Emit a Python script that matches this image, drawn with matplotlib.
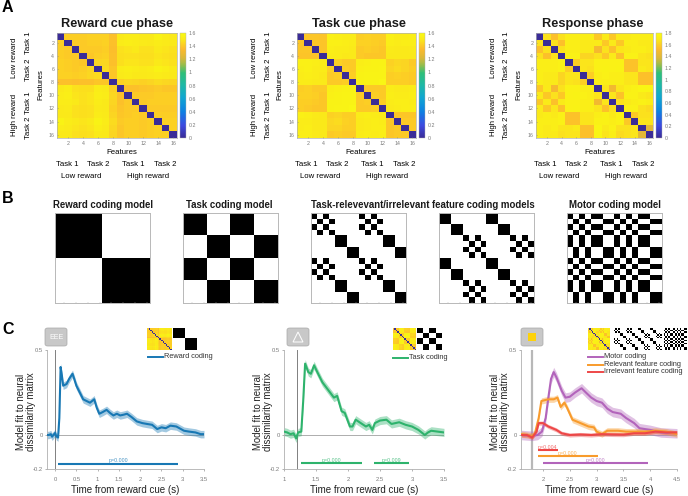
import matplotlib
matplotlib.use("Agg")
import matplotlib.pyplot as plt
import numpy as np
from matplotlib.colors import LinearSegmentedColormap
from matplotlib.patches import FancyBboxPatch, Polygon, Rectangle

plt.rcParams["font.family"] = ["Liberation Sans", "DejaVu Sans"]

W, H = 688, 496

# upper triangles of the dissimilarity matrices, row by row
reward_upper = [
    [1.42, 1.42, 1.42, 1.43, 1.43, 1.43, 1.38, 1.50, 1.52, 1.52, 1.50, 1.50, 1.55, 1.52, 1.50],
    [1.41, 1.41, 1.42, 1.42, 1.43, 1.38, 1.52, 1.53, 1.52, 1.51, 1.50, 1.52, 1.51, 1.50],
    [1.41, 1.41, 1.41, 1.42, 1.37, 1.48, 1.49, 1.50, 1.48, 1.48, 1.50, 1.49, 1.48],
    [1.40, 1.42, 1.43, 1.38, 1.47, 1.48, 1.48, 1.47, 1.47, 1.49, 1.48, 1.47],
    [1.44, 1.45, 1.38, 1.47, 1.49, 1.49, 1.48, 1.48, 1.50, 1.49, 1.48],
    [1.46, 1.40, 1.52, 1.53, 1.52, 1.51, 1.52, 1.55, 1.53, 1.51],
    [1.40, 1.51, 1.52, 1.50, 1.50, 1.51, 1.52, 1.51, 1.50],
    [1.43, 1.45, 1.44, 1.43, 1.44, 1.46, 1.45, 1.44],
    [1.38, 1.38, 1.39, 1.40, 1.41, 1.40, 1.40],
    [1.41, 1.41, 1.41, 1.42, 1.42, 1.42],
    [1.41, 1.42, 1.42, 1.42, 1.42],
    [1.41, 1.41, 1.41, 1.41],
    [1.42, 1.42, 1.42],
    [1.43, 1.43],
    [1.43],
]
task_upper = [
    [1.40, 1.40, 1.39, 1.54, 1.53, 1.52, 1.52, 1.42, 1.43, 1.42, 1.42, 1.54, 1.52, 1.52, 1.53],
    [1.40, 1.39, 1.54, 1.54, 1.53, 1.52, 1.43, 1.43, 1.42, 1.41, 1.53, 1.52, 1.53, 1.53],
    [1.39, 1.53, 1.52, 1.52, 1.51, 1.41, 1.42, 1.41, 1.40, 1.51, 1.50, 1.50, 1.51],
    [1.52, 1.52, 1.50, 1.51, 1.41, 1.40, 1.40, 1.40, 1.50, 1.50, 1.50, 1.50],
    [1.43, 1.41, 1.41, 1.53, 1.54, 1.55, 1.55, 1.43, 1.45, 1.44, 1.41],
    [1.42, 1.41, 1.54, 1.55, 1.55, 1.56, 1.44, 1.46, 1.44, 1.42],
    [1.42, 1.55, 1.56, 1.56, 1.56, 1.42, 1.43, 1.42, 1.41],
    [1.55, 1.56, 1.56, 1.57, 1.42, 1.42, 1.42, 1.41],
    [1.41, 1.41, 1.41, 1.52, 1.51, 1.51, 1.52],
    [1.42, 1.41, 1.53, 1.52, 1.52, 1.53],
    [1.42, 1.52, 1.53, 1.53, 1.52],
    [1.51, 1.52, 1.53, 1.53],
    [1.40, 1.40, 1.40],
    [1.41, 1.41],
    [1.41],
]
response_upper = [
    [1.66, 1.55, 1.66, 1.72, 1.72, 1.72, 1.72, 1.58, 1.70, 1.58, 1.70, 1.70, 1.72, 1.72, 1.72],
    [1.66, 1.55, 1.72, 1.72, 1.70, 1.70, 1.70, 1.58, 1.70, 1.58, 1.72, 1.72, 1.70, 1.70],
    [1.66, 1.72, 1.72, 1.70, 1.70, 1.50, 1.66, 1.55, 1.68, 1.70, 1.72, 1.72, 1.70],
    [1.74, 1.74, 1.62, 1.62, 1.66, 1.58, 1.70, 1.55, 1.74, 1.74, 1.68, 1.66],
    [1.60, 1.68, 1.68, 1.74, 1.74, 1.74, 1.74, 1.56, 1.56, 1.68, 1.68],
    [1.68, 1.66, 1.74, 1.75, 1.74, 1.75, 1.56, 1.56, 1.70, 1.68],
    [1.60, 1.72, 1.74, 1.72, 1.72, 1.68, 1.68, 1.55, 1.55],
    [1.72, 1.72, 1.72, 1.72, 1.68, 1.68, 1.55, 1.55],
    [1.68, 1.48, 1.68, 1.72, 1.74, 1.76, 1.76],
    [1.68, 1.56, 1.74, 1.74, 1.70, 1.68],
    [1.66, 1.70, 1.72, 1.74, 1.72],
    [1.74, 1.74, 1.66, 1.64],
    [1.58, 1.66, 1.66],
    [1.68, 1.68],
    [1.42],
]

# category labels per feature: two features share a label when the model calls them alike
reward_labels = [0, 0, 0, 0, 0, 0, 0, 0, 1, 1, 1, 1, 1, 1, 1, 1]
task_labels = [0, 0, 0, 0, 1, 1, 1, 1, 0, 0, 0, 0, 1, 1, 1, 1]
relevant_labels = [0, 1, 0, 1, 2, 2, 3, 3, 0, 1, 0, 1, 2, 2, 3, 3]
irrelevant_labels = [2, 2, 3, 3, 0, 1, 0, 1, 2, 2, 3, 3, 0, 1, 0, 1]
motor_labels = [0, 1, 0, 1, 0, 0, 1, 1, 0, 1, 0, 1, 0, 0, 1, 1]

# panel C time courses
reward_t = [-0.19, -0.15, -0.1, -0.07, -0.03, 0, 0.03, 0.07, 0.1, 0.13, 0.16, 0.19, 0.27, 0.33, 0.41, 0.45, 0.5, 0.58, 0.66, 0.74, 0.82, 0.87, 0.92, 0.98, 1.04, 1.12, 1.21, 1.29, 1.37, 1.45, 1.53, 1.62, 1.69, 1.8, 1.92, 2.05, 2.16, 2.28, 2.4, 2.5, 2.6, 2.71, 2.85, 3.03, 3.15, 3.3, 3.42, 3.5]
reward_fit = [0.0, 0.0, 0.005, -0.01, 0.003, 0.012, -0.008, -0.015, 0.1, 0.4, 0.35, 0.29, 0.3, 0.33, 0.36, 0.33, 0.29, 0.25, 0.21, 0.2, 0.19, 0.2, 0.21, 0.16, 0.125, 0.135, 0.148, 0.13, 0.115, 0.125, 0.115, 0.12, 0.125, 0.105, 0.08, 0.07, 0.065, 0.06, 0.035, 0.045, 0.04, 0.055, 0.05, 0.025, 0.02, 0.015, 0.005, 0.005]
reward_sem = 0.022

task_t = [1.0, 1.05, 1.1, 1.15, 1.19, 1.22, 1.27, 1.3, 1.33, 1.38, 1.42, 1.47, 1.52, 1.6, 1.7, 1.78, 1.83, 1.9, 1.95, 2.03, 2.07, 2.12, 2.2, 2.28, 2.33, 2.38, 2.42, 2.5, 2.6, 2.68, 2.8, 2.9, 3.0, 3.1, 3.2, 3.25, 3.3, 3.4, 3.5]
task_fit = [0.02, 0.015, 0.005, 0.01, -0.02, 0.015, 0.02, 0.2, 0.42, 0.37, 0.36, 0.41, 0.37, 0.31, 0.26, 0.22, 0.23, 0.14, 0.13, 0.05, 0.05, 0.09, 0.07, 0.05, 0.06, 0.03, 0.07, 0.085, 0.09, 0.065, 0.075, 0.06, 0.05, 0.03, 0.0, 0.015, 0.025, 0.02, 0.015]
task_sem = 0.024

motor_t = [1.6, 1.8, 1.9, 1.98, 2.05, 2.1, 2.15, 2.2, 2.25, 2.35, 2.42, 2.5, 2.6, 2.72, 2.8, 2.9, 3.0, 3.1, 3.2, 3.3, 3.45, 3.55, 3.7, 3.8, 3.9, 4.0, 4.2, 4.5]
motor_fit = [0.0, -0.005, 0.0, 0.02, 0.1, 0.22, 0.33, 0.37, 0.34, 0.26, 0.22, 0.225, 0.25, 0.275, 0.25, 0.22, 0.2, 0.19, 0.155, 0.135, 0.125, 0.1, 0.07, 0.04, 0.035, 0.03, 0.015, 0.01]
motor_sem = 0.028

relevant_t = [1.6, 1.8, 1.85, 1.92, 1.97, 2.1, 2.2, 2.27, 2.33, 2.4, 2.45, 2.55, 2.7, 2.85, 2.95, 3.0, 3.1, 3.2, 3.4, 3.55, 3.7, 3.9, 4.1, 4.3, 4.5]
relevant_fit = [0.005, -0.005, 0.01, 0.1, 0.2, 0.21, 0.21, 0.22, 0.165, 0.19, 0.16, 0.09, 0.07, 0.05, 0.045, 0.02, 0.005, 0.025, 0.025, 0.02, 0.02, 0.02, 0.025, 0.02, 0.005]
relevant_sem = 0.018

irrelevant_t = [1.6, 1.7, 1.8, 1.88, 1.92, 2.0, 2.1, 2.25, 2.35, 2.5, 2.7, 2.9, 3.1, 3.3, 3.5, 3.7, 3.9, 4.1, 4.3, 4.5]
irrelevant_fit = [0.0, 0.0, -0.015, 0.02, 0.07, 0.07, 0.05, 0.03, 0.01, 0.0, 0.003, 0.0, 0.005, 0.003, 0.002, 0.01, 0.01, 0.02, 0.015, 0.015]
irrelevant_sem = 0.012

BLUE, GREEN = "#1878b4", "#2eb36c"
PURPLE, ORANGE, RED = "#b264bb", "#f89b2c", "#ee4747"
GREY = "#7a7a7a"

parula = LinearSegmentedColormap.from_list(
    "parula_like",
    [(0.0, "#3a2c97"), (0.12, "#3c4be0"), (0.25, "#0e80e2"), (0.38, "#10a5d2"),
     (0.5, "#1eb8a8"), (0.62, "#2fbf78"), (0.69, "#8fbd4e"), (0.76, "#d8b83a"),
     (0.85, "#fdba2d"), (0.94, "#fbe91a"), (1.0, "#f9fb12")],
)


def px_axes(left, top, right, bottom):
    return fig.add_axes([left / W, 1 - bottom / H, (right - left) / W, (bottom - top) / H])


def label(x, y, s, size=5.6, **kw):
    kw.setdefault("ha", "center")
    kw.setdefault("va", "center")
    fig.text(x / W, 1 - y / H, s, fontsize=size, **kw)


def from_upper(upper):
    m = np.zeros((16, 16))
    for i, row in enumerate(upper):
        m[i, i + 1:] = row
    return m + m.T


def from_labels(labels):
    labels = np.array(labels)
    return (labels[:, None] == labels[None, :]).astype(float)


def heatmap(left, right, dx, title, title_x, upper, vmax, cticks, cleft):
    ax = px_axes(left, 33, right, 138)
    m = from_upper(upper)
    im = ax.imshow(m, cmap=parula, vmin=0, vmax=vmax, aspect="auto", interpolation="nearest")
    ax.set_xticks(np.arange(1, 16, 2), [str(i) for i in range(2, 17, 2)])
    ax.set_yticks(np.arange(1, 16, 2), [str(i) for i in range(2, 17, 2)])
    ax.tick_params(labelsize=3.8, length=1, width=0.4, pad=2, colors=GREY, direction="in")
    for s in ax.spines.values():
        s.set_color("#b0b0b0")
        s.set_linewidth(0.5)
    cax = px_axes(cleft, 33, cleft + 6, 138)
    cb = fig.colorbar(im, cax=cax, ticks=cticks)
    cb.ax.set_yticklabels([f"{t:g}" for t in cticks])
    cb.ax.tick_params(labelsize=3.8, length=0, pad=2, colors=GREY)
    cb.outline.set_linewidth(0.3)
    cb.outline.set_edgecolor("#b0b0b0")

    label(title_x, 24, title, size=9.2, fontweight="bold", color="#1a1a1a")
    label(15 + dx, 58, "Low reward", rotation=90)
    label(15 + dx, 115, "High reward", rotation=90)
    for y, s in zip([43, 70, 103, 128], ["Task 1", "Task 2", "Task 1", "Task 2"]):
        label(29 + dx, y, s, rotation=90)
    label(41 + dx, 85, "Features", rotation=90)
    label(122 + dx, 153, "Features")
    for x, s in zip([67, 98, 133, 165], ["Task 1", "Task 2", "Task 1", "Task 2"]):
        label(x + dx, 165, s)
    label(81 + dx, 176, "Low reward")
    label(148 + dx, 176, "High reward")


def model_panel(left, right, labels_):
    ax = px_axes(left, 213, right, 303)
    ax.imshow(from_labels(labels_), cmap="gray_r", vmin=0, vmax=1, aspect="auto", interpolation="nearest")
    ax.set_xticks(np.arange(1, 16, 2), [])
    ax.set_yticks(np.arange(1, 16, 2), [])
    ax.tick_params(length=1, width=0.3, color="#b0b0b0", direction="in")
    for s in ax.spines.values():
        s.set_color("#b8b8b8")
        s.set_linewidth(0.7)


def thumb(left, right, m, cmap, vmax):
    ax = px_axes(left, 328, right, 350)
    ax.imshow(m, cmap=cmap, vmin=0, vmax=vmax, aspect="auto", interpolation="nearest")
    ax.axis("off")


def fit_panel(left, right, xlim, xticks, vline, vline_style):
    ax = px_axes(left, 350, right, 469)
    ax.set_xlim(*xlim)
    ax.set_ylim(-0.2, 0.5)
    ax.set_xticks(xticks, [f"{t:g}" for t in xticks])
    ax.set_yticks([-0.2, 0, 0.5], ["-0.2", "0", "0.5"])
    ax.tick_params(labelsize=4.2, length=1.5, width=0.4, pad=4, colors=GREY)
    ax.tick_params(axis="y", pad=1.5)
    for s in ["top", "right"]:
        ax.spines[s].set_visible(False)
    for s in ["left", "bottom"]:
        ax.spines[s].set_color("#b0b0b0")
        ax.spines[s].set_linewidth(0.6)
    ax.axhline(0, color="#a0a0a0", lw=0.6, zorder=1)
    ax.axvline(vline, **vline_style, zorder=1)
    ax.set_xlabel("Time from reward cue (s)", fontsize=7, color="#222222", va="center")
    ax.xaxis.set_label_coords(0.5, -21 / 119, transform=ax.transAxes)
    ax.set_ylabel("Model fit to neural\ndissimilarity matrix", fontsize=6.9,
                  linespacing=0.95, color="#222222", va="center")
    ax.yaxis.set_label_coords(-21 / (right - left), 0.48, transform=ax.transAxes)
    return ax


def trace(ax, t, fit, sem, color):
    fit = np.array(fit)
    ax.fill_between(t, fit - sem, fit + sem, color=color, alpha=0.4, lw=0, zorder=2)
    ax.plot(t, fit, color=color, lw=1.5, zorder=3)


def sig_bar(ax, t0, t1, y, color, text):
    ax.plot([t0, t1], [y, y], color=color, lw=1.5, solid_capstyle="butt")
    ax.text((t0 + t1) / 2, y + 0.002, text, color=color, fontsize=3.8, ha="center", va="bottom", alpha=0.8)


def cue_box(left, right):
    fig.add_artist(FancyBboxPatch((left / W, 1 - 346 / H), (right - left) / W, 18 / H,
                                  boxstyle="round,pad=0,rounding_size=0.004",
                                  transform=fig.transFigure, fc="#c8c8c8", ec="#a8a8a8", lw=0.5))


def legend_line(x0, x1, y, color, text):
    fig.add_artist(plt.Line2D([x0 / W, x1 / W], [1 - y / H, 1 - y / H], color=color, lw=1.4))
    label(x1 + 1, y - 0.5, text, size=5.3, ha="left", color="#333333")


fig = plt.figure(figsize=(W / 100, H / 100), dpi=100)

label(2, 8, "A", size=11.5, fontweight="bold", ha="left")
label(2, 199, "B", size=11.5, fontweight="bold", ha="left")
label(2, 329, "C", size=11.5, fontweight="bold", ha="left")

ticks_16 = [0, 0.2, 0.4, 0.6, 0.8, 1, 1.2, 1.4, 1.6]
ticks_18 = [0, 0.2, 0.4, 0.6, 0.8, 1, 1.2, 1.4, 1.6, 1.8]
heatmap(57, 177, 0, "Reward cue phase", 117, reward_upper, 1.6, ticks_16, 180)
heatmap(297, 416, 239, "Task cue phase", 359, task_upper, 1.6, ticks_16, 419)
heatmap(536, 653, 478, "Response phase", 593, response_upper, 1.8, ticks_18, 656)

for x, s in [(103, "Reward coding model"), (229, "Task coding model"),
             (423, "Task-relevevant/irrelevant feature coding models"), (615, "Motor coding model")]:
    label(x, 205, s, size=6.9, fontweight="bold", color="#1a1a1a")
model_panel(55, 150, reward_labels)
model_panel(183, 278, task_labels)
model_panel(311, 406, relevant_labels)
model_panel(439, 534, irrelevant_labels)
model_panel(567, 662, motor_labels)

dark_line = dict(color="#808080", lw=0.7)
pale_line = dict(color="#b8b8b8", lw=1.6)

ax = fit_panel(47, 204, (-0.19, 3.5), [0, 0.5, 1, 1.5, 2, 2.5, 3, 3.5], 0, dark_line)
trace(ax, reward_t, reward_fit, reward_sem, BLUE)
sig_bar(ax, 0.07, 2.9, -0.168, BLUE, "p=0.000")

ax = fit_panel(284, 444, (1, 3.5), [1, 1.5, 2, 2.5, 3, 3.5], 1.2, dark_line)
trace(ax, task_t, task_fit, task_sem, GREEN)
sig_bar(ax, 1.26, 2.22, -0.165, GREEN, "p=0.000")
sig_bar(ax, 2.41, 2.95, -0.165, GREEN, "p=0.009")

ax = fit_panel(521, 677, (1.59, 4.5), [2, 2.5, 3, 3.5, 4, 4.5], 1.8, pale_line)
trace(ax, motor_t, motor_fit, motor_sem, PURPLE)
trace(ax, relevant_t, relevant_fit, relevant_sem, ORANGE)
trace(ax, irrelevant_t, irrelevant_fit, irrelevant_sem, RED)
sig_bar(ax, 1.9, 2.28, -0.09, RED, "p=0.004")
sig_bar(ax, 1.9, 3.02, -0.125, ORANGE, "p=0.000")
sig_bar(ax, 2.0, 3.95, -0.165, PURPLE, "p=0.000")

cue_box(45, 67)
cue_box(287, 309)
cue_box(521, 543)
label(56, 337.5, "EEE", size=5, color="white")
fig.add_artist(Polygon([[293 / W, 1 - 342 / H], [303 / W, 1 - 342 / H], [298 / W, 1 - 332 / H]],
                       closed=True, transform=fig.transFigure, fc="none", ec="white", lw=0.7))
fig.add_artist(Rectangle((528 / W, 1 - 341 / H), 8 / W, 8 / H, transform=fig.transFigure,
                         fc="#fdd20a", ec="none"))

thumb(147, 172, from_upper(reward_upper), parula, 1.6)
thumb(173, 197, from_labels(reward_labels), "gray_r", 1)
thumb(393, 415, from_upper(task_upper), parula, 1.6)
thumb(417, 442, from_labels(task_labels), "gray_r", 1)
thumb(588, 610, from_upper(response_upper), parula, 1.8)
thumb(614, 638, from_labels(relevant_labels), "gray_r", 1)
thumb(638, 662, from_labels(irrelevant_labels), "gray_r", 1)
thumb(664, 687, from_labels(motor_labels), "gray_r", 1)

legend_line(148, 163, 357, BLUE, "Reward coding")
legend_line(393, 408, 358, GREEN, "Task coding")
legend_line(588, 603, 357, PURPLE, "Motor coding")
legend_line(588, 603, 365, ORANGE, "Relevant feature coding")
legend_line(588, 603, 372, RED, "Irrelevant feature coding")

fig.savefig("out.png", dpi=100)
